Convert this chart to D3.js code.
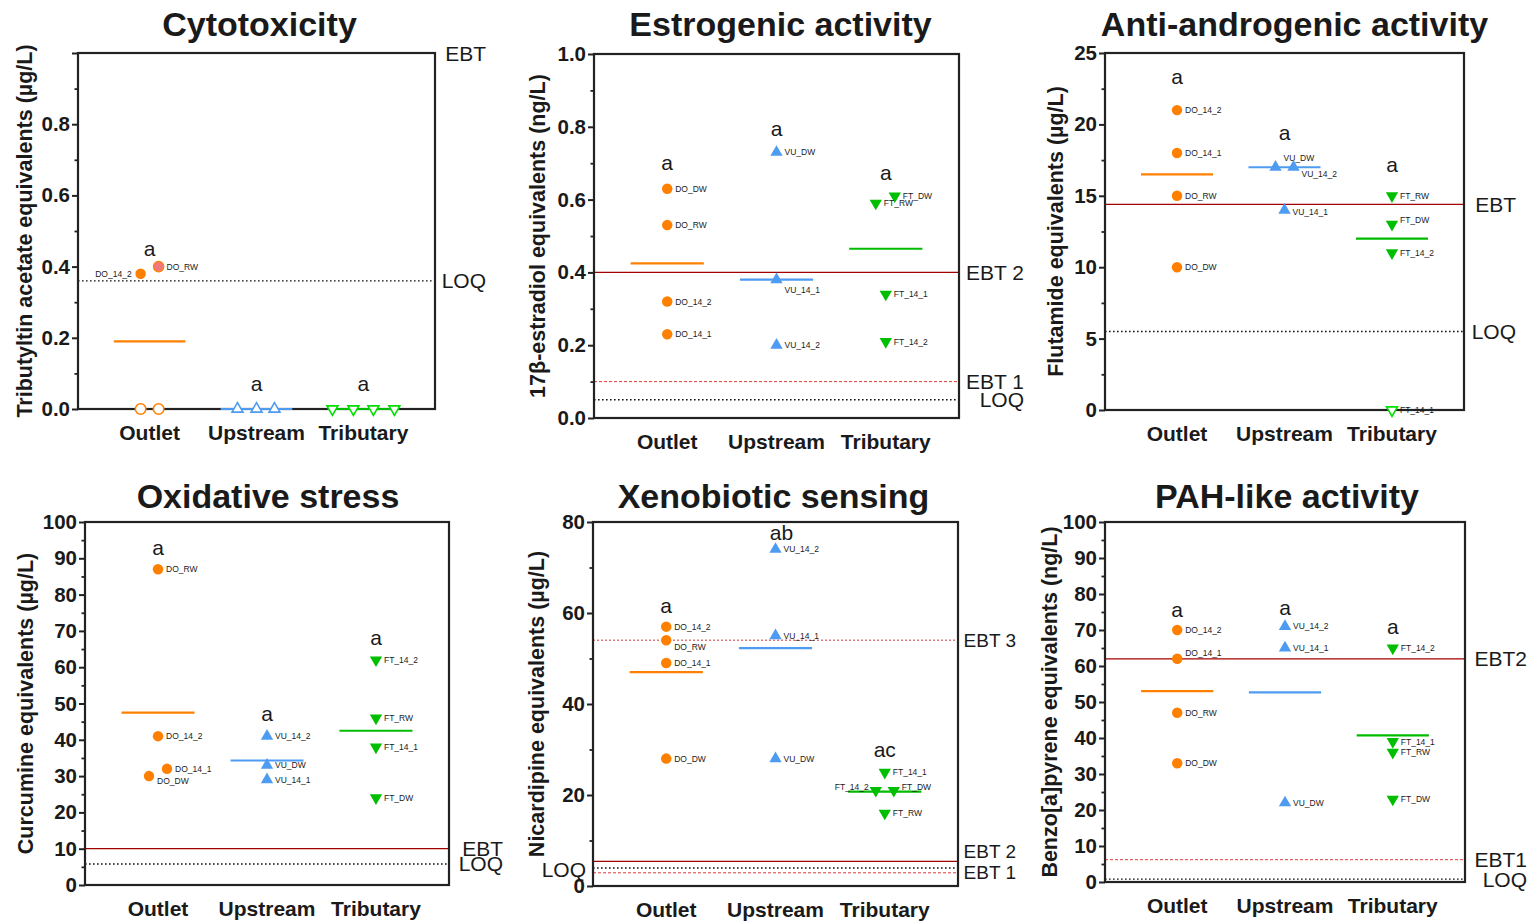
<!DOCTYPE html>
<html><head><meta charset="utf-8">
<script src="https://cdn.jsdelivr.net/npm/d3@7"></script>
<style>
body{margin:0;background:#fff;}
text{font-family:"Liberation Sans",Arial,Helvetica,sans-serif;fill:#1a1a1a;}
</style>
</head><body>
<svg id="chart" width="1528" height="921"></svg>
<script>
// ---------------- DATA ----------------
const categories = ["Outlet", "Upstream", "Tributary"];
const titles = ["Cytotoxicity", "Estrogenic activity", "Anti-androgenic activity",
                "Oxidative stress", "Xenobiotic sensing", "PAH-like activity"];
const yTitles = ["Tributyltin acetate equivalents (µg/L)", "17β-estradiol equivalents (ng/L)",
                 "Flutamide equivalents (µg/L)", "Curcumine equivalents (µg/L)",
                 "Nicardipine equivalents (µg/L)", "Benzo[a]pyrene equivalents (ng/L)"];
const yMax = [1.0, 1.0, 25, 100, 80, 100];
const minorSteps = [0.1, 0.1, 2.5, 5, 10, 5];

const cytoTicks  = [0, 0.2, 0.4, 0.6, 0.8];
const estroTicks = [0, 0.2, 0.4, 0.6, 0.8, 1.0];
const androTicks = [0, 5, 10, 15, 20, 25];
const oxidTicks  = [0, 10, 20, 30, 40, 50, 60, 70, 80, 90, 100];
const xenoTicks  = [0, 20, 40, 60, 80];
const pahTicks   = [0, 10, 20, 30, 40, 50, 60, 70, 80, 90, 100];

// [group, sample, value, detected (above LOQ)]
const cytoPoints = [
  ["Outlet", "DO_14_2", 0.38, true], ["Outlet", "DO_RW", 0.40, true],
  ["Outlet", "", 0, false], ["Outlet", "", 0, false],
  ["Upstream", "", 0, false], ["Upstream", "", 0, false], ["Upstream", "", 0, false],
  ["Tributary", "", 0, false], ["Tributary", "", 0, false], ["Tributary", "", 0, false], ["Tributary", "", 0, false]
];
const estroPoints = [
  ["Outlet", "DO_DW", 0.63, true], ["Outlet", "DO_RW", 0.53, true],
  ["Outlet", "DO_14_2", 0.32, true], ["Outlet", "DO_14_1", 0.23, true],
  ["Upstream", "VU_DW", 0.73, true], ["Upstream", "VU_14_1", 0.38, true], ["Upstream", "VU_14_2", 0.20, true],
  ["Tributary", "FT_DW", 0.61, true], ["Tributary", "FT_RW", 0.59, true],
  ["Tributary", "FT_14_1", 0.34, true], ["Tributary", "FT_14_2", 0.21, true]
];
const androPoints = [
  ["Outlet", "DO_14_2", 21, true], ["Outlet", "DO_14_1", 18, true],
  ["Outlet", "DO_RW", 15, true], ["Outlet", "DO_DW", 10, true],
  ["Upstream", "VU_DW", 17, true], ["Upstream", "VU_14_2", 17, true], ["Upstream", "VU_14_1", 14, true],
  ["Tributary", "FT_RW", 15, true], ["Tributary", "FT_DW", 13, true],
  ["Tributary", "FT_14_2", 11, true], ["Tributary", "FT_14_1", 0, false]
];
const oxidPoints = [
  ["Outlet", "DO_RW", 87, true], ["Outlet", "DO_14_2", 41, true],
  ["Outlet", "DO_14_1", 32, true], ["Outlet", "DO_DW", 30, true],
  ["Upstream", "VU_14_2", 41, true], ["Upstream", "VU_DW", 33, true], ["Upstream", "VU_14_1", 29, true],
  ["Tributary", "FT_14_2", 62, true], ["Tributary", "FT_RW", 46, true],
  ["Tributary", "FT_14_1", 38, true], ["Tributary", "FT_DW", 24, true]
];
const xenoPoints = [
  ["Outlet", "DO_14_2", 57, true], ["Outlet", "DO_RW", 54, true],
  ["Outlet", "DO_14_1", 49, true], ["Outlet", "DO_DW", 28, true],
  ["Upstream", "VU_14_2", 74, true], ["Upstream", "VU_14_1", 55, true], ["Upstream", "VU_DW", 28, true],
  ["Tributary", "FT_14_1", 25, true], ["Tributary", "FT_14_2", 21, true],
  ["Tributary", "FT_DW", 21, true], ["Tributary", "FT_RW", 16, true]
];
const pahPoints = [
  ["Outlet", "DO_14_2", 70, true], ["Outlet", "DO_14_1", 62, true],
  ["Outlet", "DO_RW", 47, true], ["Outlet", "DO_DW", 33, true],
  ["Upstream", "VU_14_2", 71, true], ["Upstream", "VU_14_1", 65, true], ["Upstream", "VU_DW", 22, true],
  ["Tributary", "FT_14_2", 65, true], ["Tributary", "FT_14_1", 39, true],
  ["Tributary", "FT_RW", 36, true], ["Tributary", "FT_DW", 23, true]
];

// central lines (per category)
const cytoCenters  = [0.19, 0, 0];
const estroCenters = [0.425, 0.38, 0.465];
const androCenters = [16.5, 17, 12];
const oxidCenters  = [47.5, 34.3, 42.5];
const xenoCenters  = [47, 52.3, 20.75];
const pahCenters   = [53, 52.7, 40.75];

// significance letters
const cytoLetters  = ["a", "a", "a"];
const estroLetters = ["a", "a", "a"];
const androLetters = ["a", "a", "a"];
const oxidLetters  = ["a", "a", "a"];
const xenoLetters  = ["a", "ab", "ac"];
const pahLetters   = ["a", "a", "a"];

// thresholds [label, value, kind]
const cytoThresholds  = [["EBT", 1.0, "ebt"], ["LOQ", 0.36, "loq"]];
const estroThresholds = [["EBT 2", 0.4, "ebt"], ["EBT 1", 0.1, "ebtDashed"], ["LOQ", 0.05, "loq"]];
const androThresholds = [["EBT", 14.4, "ebt"], ["LOQ", 5.5, "loq"]];
const oxidThresholds  = [["EBT", 10, "ebt"], ["LOQ", 5.8, "loq"]];
const xenoThresholds  = [["EBT 3", 54, "ebtDotted"], ["EBT 2", 5.4, "ebt"], ["LOQ", 3.95, "loq"], ["EBT 1", 2.9, "ebtDashed"]];
const pahThresholds   = [["EBT2", 62, "ebt"], ["EBT1", 6.2, "ebtDashed"], ["LOQ", 0.8, "loq"]];

// ---------------- LAYOUT / STYLE ----------------
const panels = [
  {points: cytoPoints, centers: cytoCenters, letters: cytoLetters, thr: cytoThresholds, ticks: cytoTicks, fmt: d3.format(".1f"),
   box: [78, 53, 357, 356], yTitleX: 25, titleDx: 3, titleY: 36, labelRight: 486,
   letterY: [0.43, 0.051, 0.051],
   jitter: {0: -9, 1: 9, 2: -9, 3: 9, 4: -19, 5: 0, 6: 18, 7: -31, 8: -10, 9: 10, 10: 31},
   labelPos: {0: [-9, 0, "end"]}, special: {1: {fill: "#f2797a"}}, thrLabel: {}},
  {points: estroPoints, centers: estroCenters, letters: estroLetters, thr: estroThresholds, ticks: estroTicks, fmt: d3.format(".1f"),
   box: [594, 54, 365, 364], yTitleX: 538, titleDx: 4, titleY: 36, labelRight: 1024,
   letterY: [0.681, 0.775, 0.655],
   jitter: {7: 9, 8: -10}, labelPos: {5: [8, 10, "start"]}, special: {}, thrLabel: {}},
  {points: androPoints, centers: androCenters, letters: androLetters, thr: androThresholds, ticks: androTicks, fmt: d3.format("d"),
   box: [1105, 53, 359, 357], yTitleX: 1056, titleDx: 10, titleY: 36, labelRight: 1516,
   letterY: [22.85, 18.93, 16.64],
   jitter: {4: -9, 5: 9}, labelPos: {4: [8, -9, "start"], 5: [8, 7, "start"], 6: [8, 2, "start"], 8: [8, -4, "start"]},
   special: {}, thrLabel: {}},
  {points: oxidPoints, centers: oxidCenters, letters: oxidLetters, thr: oxidThresholds, ticks: oxidTicks, fmt: d3.format("d"),
   box: [85, 522, 364, 363], yTitleX: 26, titleDx: 1, titleY: 508, labelRight: 503,
   letterY: [91, 45.3, 66.2],
   jitter: {2: 9, 3: -9}, labelPos: {3: [8, 5, "start"]}, special: {}, thrLabel: {}},
  {points: xenoPoints, centers: xenoCenters, letters: xenoLetters, thr: xenoThresholds, ticks: xenoTicks, fmt: d3.format("d"),
   box: [593, 522, 365, 364], yTitleX: 537, titleDx: -2, titleY: 508, labelRight: 1016,
   letterY: [60, 76, 28.4], letterDx: [0, 6, 0],
   jitter: {8: -9, 9: 9}, labelPos: {1: [8, 7, "start"], 8: [-7, -3, "end"], 9: [8, -3, "start"]},
   special: {}, thrFont: 19, thrLabel: {1: {dy: -10}, 2: {x: 586, dy: 1, font: 21}}},
  {points: pahPoints, centers: pahCenters, letters: pahLetters, thr: pahThresholds, ticks: pahTicks, fmt: d3.format("d"),
   box: [1105, 522, 360, 360], yTitleX: 1050, titleDx: 2, titleY: 508, labelRight: 1527,
   letterY: [73.6, 74.2, 68.8],
   jitter: {}, labelPos: {1: [8, -6, "start"]}, special: {}, thrLabel: {}}
];
panels.forEach((p, i) => { p.title = titles[i]; p.yTitle = yTitles[i]; p.max = yMax[i]; p.minor = minorSteps[i]; });

const groupColor = {Outlet: "#ff8000", Upstream: "#4e9bf2", Tributary: "#00bf00"};
const openColor  = {Outlet: "#ff8000", Upstream: "#4e9bf2", Tributary: "#00e000"};
const lineColor  = {Outlet: "#ff8000", Upstream: "#4e9bf2", Tributary: "#00bb00"};
const thrStyle = {
  ebt:       {stroke: "#a30000", dash: null,      w: 1.3},
  ebtDashed: {stroke: "#e03a3a", dash: "3,2",     w: 1},
  ebtDotted: {stroke: "#e07a7a", dash: "2,2",     w: 1.4},
  loq:       {stroke: "#111",    dash: "1.6,2.4", w: 1.4}
};
const axisColor = "#222";

// ---------------- DRAW ----------------
const svg = d3.select("#chart");

panels.forEach(p => {
  const [L, T, W, H] = p.box;
  const R = L + W, B = T + H;
  const g = svg.append("g");
  const x = d3.scalePoint().domain(categories).range([L, R]).padding(0.67);
  const y = d3.scaleLinear().domain([0, p.max]).range([B, T]);
  const step = x.step();

  // thresholds
  p.thr.forEach(([lab, v, kind], k) => {
    const st = thrStyle[kind];
    g.append("line").attr("x1", L).attr("x2", R).attr("y1", y(v)).attr("y2", y(v))
      .attr("stroke", st.stroke).attr("stroke-width", st.w)
      .attr("stroke-dasharray", st.dash);
    const o = p.thrLabel[k] || {};
    g.append("text").attr("x", o.x !== undefined ? o.x : p.labelRight)
      .attr("y", y(v) + (o.dy || 0))
      .attr("text-anchor", "end").attr("dominant-baseline", "central")
      .style("font-size", (o.font || p.thrFont || 21) + "px").text(lab);
  });

  // minor ticks
  const eps = 1e-9;
  const allTicks = d3.range(0, p.max + eps, p.minor).map(v => +v.toFixed(4));
  const majorVals = allTicks.filter((v, j) => j % 2 === 0);
  const minorVals = allTicks.filter((v, j) => j % 2 === 1);
  const minorAx = g.append("g").attr("transform", `translate(${L},0)`)
    .call(d3.axisLeft(y).tickValues(minorVals).tickSize(3.5).tickFormat(""));
  minorAx.select(".domain").remove();
  minorAx.selectAll("line").attr("stroke", axisColor).attr("stroke-width", 1.8);

  const labelled = new Set(p.ticks.map(v => +v.toFixed(4)));
  const majorAx = g.append("g").attr("transform", `translate(${L},0)`)
    .call(d3.axisLeft(y).tickValues(majorVals).tickSize(6).tickPadding(2)
      .tickFormat(v => labelled.has(+v.toFixed(4)) ? p.fmt(v) : ""));
  majorAx.select(".domain").remove();
  majorAx.selectAll("line").attr("stroke", axisColor).attr("stroke-width", 2);
  majorAx.selectAll("text").style("font-size", "20.5px").style("font-weight", "bold")
    .attr("fill", "#1a1a1a").attr("font-family", null);

  // frame
  g.append("rect").attr("x", L).attr("y", T).attr("width", W).attr("height", H)
    .attr("fill", "none").attr("stroke", axisColor).attr("stroke-width", 2.2);

  // central lines
  categories.forEach((c, k) => {
    const hw = step * 0.335;
    g.append("line").attr("x1", x(c) - hw).attr("x2", x(c) + hw)
      .attr("y1", y(p.centers[k])).attr("y2", y(p.centers[k]))
      .attr("stroke", lineColor[c]).attr("stroke-width", 2.2);
  });

  // points
  p.points.forEach(([grp, name, v, det], k) => {
    const cx = x(grp) + (p.jitter[k] || 0), cy = y(v);
    let sym;
    if (grp === "Outlet") sym = d3.symbol(d3.symbolCircle, 86);
    else sym = d3.symbol(d3.symbolTriangle, det ? 66 : 52);
    const rot = grp === "Tributary" ? 180 : 0;
    const sp = p.special[k] || {};
    g.append("path").attr("d", sym())
      .attr("transform", `translate(${cx},${cy}) rotate(${rot})`)
      .attr("fill", det ? (sp.fill || groupColor[grp]) : "#fff")
      .attr("stroke", det ? (sp.fill ? groupColor[grp] : "none") : openColor[grp])
      .attr("stroke-width", det ? 1.2 : 1.6);
    if (name) {
      const lp = p.labelPos[k] || [8, 0, "start"];
      g.append("text").attr("x", cx + lp[0]).attr("y", cy + lp[1])
        .attr("text-anchor", lp[2]).attr("dominant-baseline", "central")
        .style("font-size", "8.5px").attr("fill", "#222").text(name);
    }
  });

  // letters
  categories.forEach((c, k) => {
    g.append("text").attr("x", x(c) + ((p.letterDx || [])[k] || 0)).attr("y", y(p.letterY[k]))
      .attr("text-anchor", "middle").style("font-size", "21px").text(p.letters[k]);
  });

  // category labels
  categories.forEach(c => {
    g.append("text").attr("x", x(c)).attr("y", B + 31).attr("text-anchor", "middle")
      .style("font-size", "21px").style("font-weight", "bold").text(c);
  });

  // y title
  g.append("text").attr("transform", `translate(${p.yTitleX},${(T + B) / 2}) rotate(-90)`)
    .attr("text-anchor", "middle").attr("dominant-baseline", "central")
    .style("font-size", "21.5px").style("font-weight", "bold").text(p.yTitle);

  // panel title
  g.append("text").attr("x", (L + R) / 2 + p.titleDx).attr("y", p.titleY)
    .attr("text-anchor", "middle").style("font-size", "34px").style("font-weight", "bold").text(p.title);
});
</script>
</body></html>
